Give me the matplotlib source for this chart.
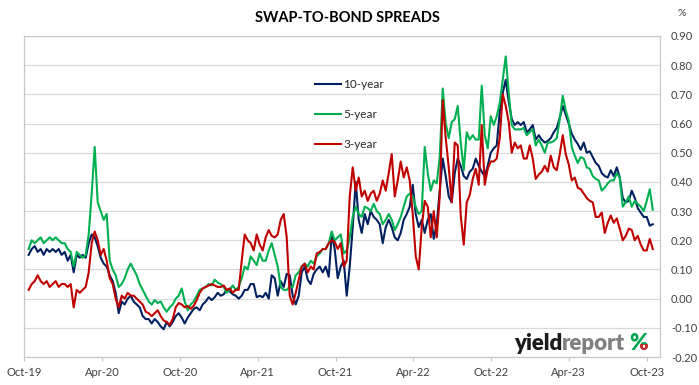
import matplotlib
matplotlib.use("Agg")
import matplotlib.pyplot as plt
import matplotlib.dates as mdates
from matplotlib.ticker import FormatStrFormatter, MultipleLocator
from matplotlib.patches import Rectangle
from matplotlib.transforms import IdentityTransform
import pandas as pd

plt.rcParams['font.family'] = ['Lato', 'DejaVu Sans']

# weekly readings, Oct-2019 .. Oct-2023 (%)
ten_year = [
    0.15, 0.17, 0.18, 0.16, 0.17, 0.15, 0.17, 0.16, 0.17, 0.16, 0.17, 0.15, 0.16, 0.13, 0.15, 0.09,
    0.15, 0.14, 0.15, 0.14, 0.19, 0.22, 0.21, 0.18, 0.14, 0.12, 0.11, 0.08, 0.06, 0.02, -0.05, -0.01,
    -0.02, 0.00, 0.01,
    -0.01, -0.02, -0.03, -0.06, -0.07, -0.07, -0.085, -0.07, -0.08, -0.095, -0.105, -0.08, -0.095,
    -0.08, -0.06, -0.05, -0.065, -0.085, -0.065, -0.05, -0.035, -0.03, -0.04, -0.02, -0.01, 0.005,
    -0.005, 0.005, 0.02, 0.01, 0.015, 0.03, 0.025, 0.015, 0.01,
    0.0, 0.01, 0.03, 0.03, 0.05, 0.05, 0.005, 0.01, 0.005, 0.02, 0.0, 0.08, 0.07, 0.01, 0.06, 0.04,
    0.085, 0.08, 0.01, -0.02, 0.01, 0.09, 0.11, 0.065, 0.05, 0.085, 0.10, 0.11, 0.09, 0.11, 0.075,
    0.22, 0.17, 0.07, 0.11,
    0.13, 0.01, 0.11, 0.245, 0.40, 0.27, 0.225, 0.29, 0.255, 0.30, 0.28, 0.27, 0.255, 0.19, 0.245,
    0.27, 0.245, 0.21, 0.20, 0.225, 0.27, 0.29, 0.315, 0.39, 0.29, 0.245, 0.27, 0.225, 0.27, 0.29,
    0.205, 0.255, 0.37, 0.48, 0.42, 0.35,
    0.33, 0.43, 0.48, 0.455, 0.42, 0.41, 0.435, 0.445, 0.48, 0.455, 0.435, 0.42, 0.455, 0.50, 0.515,
    0.525, 0.64, 0.705, 0.75, 0.675, 0.615, 0.595, 0.605, 0.595, 0.605, 0.57, 0.58, 0.595, 0.545,
    0.56, 0.545, 0.535, 0.54, 0.55, 0.57,
    0.585, 0.62, 0.66, 0.63, 0.60, 0.565, 0.545, 0.53, 0.51, 0.535, 0.50, 0.505, 0.485, 0.465, 0.455,
    0.43, 0.42, 0.415, 0.44, 0.42, 0.45, 0.415, 0.345, 0.33, 0.335, 0.37, 0.345, 0.31, 0.295, 0.28,
    0.28, 0.25, 0.255,
]

five_year = [
    0.17, 0.20, 0.19, 0.20, 0.21, 0.19, 0.20, 0.21, 0.20, 0.21, 0.20, 0.19, 0.19, 0.17, 0.16, 0.11,
    0.16, 0.15, 0.14, 0.15, 0.22, 0.36, 0.52, 0.33, 0.30, 0.27, 0.29, 0.13, 0.10, 0.08, 0.04, 0.05,
    0.07, 0.10, 0.12,
    0.10, 0.08, 0.05, 0.03, 0.01, -0.01, -0.02, -0.005, -0.015, -0.01, -0.03, -0.045, -0.03, -0.02,
    0.00, 0.01, 0.035, -0.01, -0.04, -0.02, -0.01, 0.01, 0.03, 0.035, 0.04, 0.05, 0.045, 0.065,
    0.055, 0.05, 0.04, 0.02, 0.03, 0.045, 0.03,
    0.04, 0.07, 0.11, 0.10, 0.145, 0.13, 0.115, 0.155, 0.13, 0.13, 0.165, 0.19, 0.15, 0.11, 0.04,
    0.03, 0.03, 0.04, 0.04, 0.08, 0.09, 0.11, 0.12, 0.11, 0.13, 0.12, 0.145, 0.155, 0.17, 0.17, 0.19,
    0.23, 0.20, 0.21, 0.22,
    0.155, 0.165, 0.21, 0.28, 0.315, 0.29, 0.28, 0.315, 0.31, 0.30, 0.325, 0.30, 0.29, 0.255, 0.27,
    0.29, 0.27, 0.235, 0.255, 0.28, 0.315, 0.35, 0.36, 0.35, 0.315, 0.29, 0.30, 0.52, 0.43, 0.37,
    0.405, 0.395, 0.485, 0.72, 0.60, 0.55,
    0.605, 0.615, 0.66, 0.535, 0.44, 0.57, 0.545, 0.56, 0.545, 0.545, 0.73, 0.56, 0.515, 0.625,
    0.595, 0.625, 0.67, 0.75, 0.83, 0.705, 0.595, 0.58, 0.58, 0.58, 0.585, 0.56, 0.57, 0.58, 0.525,
    0.545, 0.525, 0.50, 0.535, 0.535, 0.54,
    0.55, 0.615, 0.695, 0.645, 0.61, 0.52, 0.49, 0.465, 0.485, 0.48, 0.45, 0.445, 0.42, 0.41, 0.405,
    0.37, 0.38, 0.395, 0.405, 0.405, 0.43, 0.415, 0.315, 0.33, 0.35, 0.315, 0.335, 0.325, 0.315,
    0.30, 0.335, 0.375, 0.305,
]

three_year = [
    0.03, 0.05, 0.06, 0.08, 0.06, 0.05, 0.06, 0.04, 0.05, 0.06, 0.04, 0.05, 0.05, 0.04, 0.05, -0.03,
    0.03, 0.02, 0.03, 0.04, 0.09, 0.19, 0.23, 0.20, 0.15, 0.17, 0.13, 0.07, 0.05, 0.00, -0.03, 0.01,
    0.00, 0.02, 0.01,
    0.01, 0.0, -0.01, -0.02, -0.045, -0.05, -0.06, -0.05, -0.04, -0.06, -0.075, -0.08, -0.09, -0.07,
    -0.03, -0.015, -0.02, -0.03, -0.025, -0.035, -0.025, -0.005, 0.02, 0.035, 0.04, 0.045, 0.05,
    0.045, 0.04, 0.04, 0.045, 0.03, 0.035, 0.02, 0.03,
    0.03, 0.13, 0.22, 0.20, 0.19, 0.165, 0.22, 0.185, 0.165, 0.21, 0.235, 0.215, 0.21, 0.22, 0.27,
    0.29, 0.21, 0.01, -0.02, 0.02, 0.065, 0.11, 0.12, 0.09, 0.11, 0.10, 0.155, 0.16, 0.17, 0.17,
    0.19, 0.20, 0.195, 0.17, 0.19,
    0.11, 0.13, 0.35, 0.45, 0.37, 0.415, 0.35, 0.37, 0.335, 0.36, 0.37, 0.335, 0.36, 0.405, 0.37,
    0.43, 0.495, 0.35, 0.405, 0.47, 0.415, 0.45, 0.405, 0.29, 0.145, 0.10, 0.245, 0.335, 0.315,
    0.21, 0.30, 0.21, 0.35, 0.68, 0.55, 0.45,
    0.33, 0.535, 0.525, 0.285, 0.185, 0.33, 0.355, 0.41, 0.445, 0.39, 0.595, 0.39, 0.445, 0.47,
    0.47, 0.48, 0.55, 0.70, 0.66, 0.605, 0.50, 0.535, 0.515, 0.525, 0.48, 0.48, 0.525, 0.48, 0.41,
    0.425, 0.435, 0.455, 0.435, 0.49, 0.45,
    0.44, 0.495, 0.56, 0.495, 0.46, 0.405, 0.415, 0.38, 0.375, 0.36, 0.345, 0.335, 0.33, 0.28, 0.28,
    0.295, 0.225, 0.26, 0.285, 0.26, 0.275, 0.24, 0.20, 0.215, 0.24, 0.235, 0.20, 0.215, 0.185,
    0.165, 0.165, 0.205, 0.17,
]

series_names = ['10-year', '5-year', '3-year']
series_colors = ['#002060', '#00B050', '#C00000']

dates = pd.date_range('2019-10-12', '2023-10-15', periods=len(ten_year))

fig = plt.figure(figsize=(6.99, 3.85), dpi=100)
ax = fig.add_axes([24 / 699, 28 / 385, 636 / 699, 321 / 385])

for vals, name, col in zip([ten_year, five_year, three_year], series_names, series_colors):
    ax.plot(dates, vals, color=col, lw=1.5, label=name, solid_joinstyle='round')

ax.set_xlim(pd.Timestamp('2019-10-01'), pd.Timestamp('2023-11-01'))
ax.set_ylim(-0.20, 0.90)
ax.yaxis.set_major_locator(MultipleLocator(0.10))
ax.yaxis.set_major_formatter(FormatStrFormatter('%.2f'))
ax.yaxis.tick_right()
ax.xaxis.set_major_locator(mdates.MonthLocator(bymonth=[4, 10]))
ax.xaxis.set_major_formatter(mdates.DateFormatter('%b-%y'))

ax.grid(axis='y', color='#d9d9d9', lw=0.9)
ax.set_axisbelow(True)
for s in ax.spines.values():
    s.set_color('#c8c8c8')
    s.set_linewidth(0.9)
ax.tick_params(axis='y', length=0, pad=8, labelsize=8, labelcolor='#404040')
ax.tick_params(axis='x', length=3, width=0.9, color='#c8c8c8', pad=4, labelsize=8,
               labelcolor='#404040')

ax.legend(loc='upper left', bbox_to_anchor=(315 / 699, 1 - 79 / 385), bbox_transform=fig.transFigure,
          frameon=False, handlelength=2.2, handletextpad=0.2, labelspacing=1.6, fontsize=8.5,
          borderpad=0, borderaxespad=0, labelcolor='#262626')

fig.text(347 / 699, 1 - 18 / 385, 'SWAP-TO-BOND SPREADS', ha='center', va='center',
         fontsize=10.5, fontweight='bold', color='#000000')
fig.text(682 / 699, 1 - 13 / 385, '%', ha='center', va='center', fontsize=7.5, color='#404040')

# yieldreport logo
logo_size = 16
t1 = fig.text(514 / 699, 1 - 354 / 385, 'yield', ha='left', va='bottom', fontsize=logo_size,
              fontweight='heavy', color='#1a1a1a')
t2 = ax.annotate('report', xy=(1, 0), xycoords=t1, ha='left', va='bottom', fontsize=logo_size,
                 fontweight='heavy', color='#808080', annotation_clip=False)
t3 = ax.annotate('%', xy=(1, 0), xycoords=t2, xytext=(3, 0), textcoords='offset points',
                 ha='left', va='bottom', fontsize=logo_size, fontweight='heavy', color='#00A651',
                 annotation_clip=False)
fig.canvas.draw()
bb = t3.get_window_extent()
t4 = ax.annotate('%', xy=(1, 0), xycoords=t2, xytext=(3, 0), textcoords='offset points',
                 ha='left', va='bottom', fontsize=logo_size, fontweight='heavy', color='#D2232A',
                 annotation_clip=False)
clip = Rectangle((bb.x0 + bb.width * 0.5, bb.y0), bb.width, bb.height * 0.5,
                 transform=IdentityTransform())
t4.set_clip_path(clip)

fig.savefig('out.png', dpi=100)
